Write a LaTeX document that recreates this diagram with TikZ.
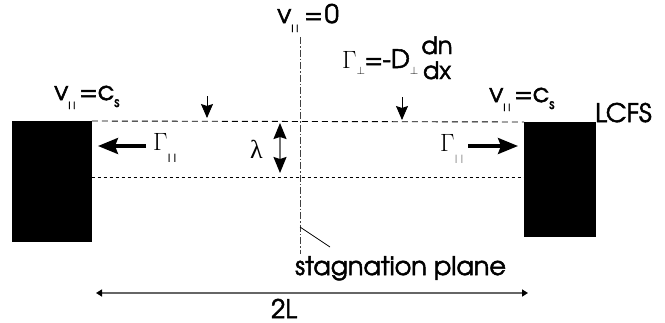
\documentclass[tikz,border=0pt]{standalone}
\usepackage{fontspec}
\setmainfont{TeX Gyre Adventor}[FakeBold=2]
\newfontfamily\serifgreek{Liberation Serif}
\newfontfamily\lmr{Latin Modern Roman}
\usetikzlibrary{arrows.meta}
\newcommand{\mysub}[3][-8pt]{\raisebox{#1}{\fontsize{#2}{#2}\selectfont #3}}
\begin{document}
\begin{tikzpicture}[x=1pt,y=-1pt,
  txt/.style={inner sep=0pt, font=\fontsize{25.5}{25.5}\selectfont},
  smalltxt/.style={inner sep=0pt, font=\fontsize{24}{24}\selectfont},
  gk/.style={inner sep=0pt, font=\lmr\fontsize{25}{25}\selectfont},
  blk/.style={fill=black, draw=none, inner sep=0pt, anchor=north west},
  lcfsline/.style={line width=0.9pt, dash pattern=on 6pt off 4pt},
  dotline/.style={line width=0.9pt, dash pattern=on 3.5pt off 2.5pt},
  axisline/.style={line width=0.8pt, black!75, dash pattern=on 7pt off 2pt on 1.5pt off 2pt},
  leader/.style={line width=0.7pt},
  downarr/.style={line width=0.9pt, -{Stealth[length=14pt,width=12pt,inset=2pt]}},
  fluxarr/.style={line width=3.2pt, -{Stealth[length=20pt,width=16pt,inset=3pt]}},
  lamarr/.style={line width=1.4pt, black!55, {Stealth[length=16pt,width=13pt,inset=2pt,black]}-{Stealth[length=16pt,width=13pt,inset=2pt,black]}},
  dimarr/.style={line width=1.5pt, black!60, {Triangle[length=6pt,width=7pt,black]}-{Triangle[length=6pt,width=7pt,black]}},
]
\useasboundingbox (0,0) rectangle (665,322);

% blocks
\node[blk, minimum width=79.5pt, minimum height=121pt] (lblock) at (12,121) {};
\node[blk, minimum width=72pt, minimum height=115pt] (rblock) at (524,122) {};

% flux surface lines
\draw[lcfsline] (lblock.north east) -- (rblock.north west);
\coordinate (dotL) at (91.5,177.5);
\coordinate (dotR) at (524,177.5);
\draw[dotline] (dotL) -- (dotR);

% stagnation axis
\coordinate (axtop) at (300,37);
\coordinate (axbot) at (300,254);
\draw[axisline] (axtop) -- (axbot);

% labels
\node[txt, anchor=base west] (vzero) at (277,23) {v\mysub[-9pt]{10}{I\kern2.5pt I}\kern6pt=\kern2pt0};
\node[txt, anchor=base west] (vcsL) at (54,100) {v\mysub[-9pt]{10}{I\kern2.5pt I}\kern4pt=c\mysub[-7pt]{14}{s}};
\node[txt, anchor=base west] (vcsR) at (489,102) {v\mysub[-9pt]{10}{I\kern2.5pt I}\kern4pt=c\mysub[-7pt]{14}{s}};
\node[txt, anchor=base west] (lcfs) at (595,122) {LCFS};

\node[txt, anchor=base west] (gperp) at (342,68) {{\lmr\fontsize{25}{25}\selectfont Γ}\mysub[-6pt]{11}{$\perp$}\kern-0.5pt=\kern-0.5pt-D\mysub[-6pt]{11}{$\perp$}};
\node[smalltxt, anchor=base] (dn) at (437,54) {dn};
\node[smalltxt, anchor=base] (dx) at (437,79) {dx};

% perpendicular flux arrows
\coordinate (aLtop) at (207,96);
\coordinate (aLbot) at (207,118);
\coordinate (aRtop) at (402,97);
\coordinate (aRbot) at (402,120);
\draw[downarr] (aLtop) -- (aLbot);
\draw[downarr] (aRtop) -- (aRbot);

% parallel flux
\node[gk, anchor=base west] (gparL) at (153,150) {Γ\mysub[-12pt]{12}{\sffamily I\kern2.5pt I}};
\node[gk, anchor=base west] (gparR) at (440,151) {Γ\mysub[-12pt]{12}{\color{black!40}\sffamily I\kern2.5pt I}};
\coordinate (fLtail) at (146,146);
\coordinate (fLtip) at (98,146);
\coordinate (fRtail) at (468,146);
\coordinate (fRtip) at (518,146);
\draw[fluxarr] (fLtail) -- (fLtip);
\draw[fluxarr] (fRtail) -- (fRtip);

% lambda
\node[inner sep=0pt, font=\serifgreek\fontsize{26}{26}\selectfont, anchor=base west] (lam) at (250,158) {λ};
\coordinate (lamtop) at (280,123);
\coordinate (lambot) at (280,173);
\draw[lamarr] (lamtop) -- (lambot);

% stagnation plane
\coordinate (leadA) at (300,227);
\coordinate (leadB) at (330,247);
\draw[leader] (leadA) -- (leadB);
\node[txt, anchor=base west] (stag) at (295,275) {stagnation plane};

% 2L
\coordinate (Lleft) at (96,293);
\coordinate (Lright) at (528,293);
\draw[dimarr] (Lleft) -- (Lright);
\node[txt, anchor=base west] (twoL) at (271,318) {2L};
\end{tikzpicture}
\end{document}
